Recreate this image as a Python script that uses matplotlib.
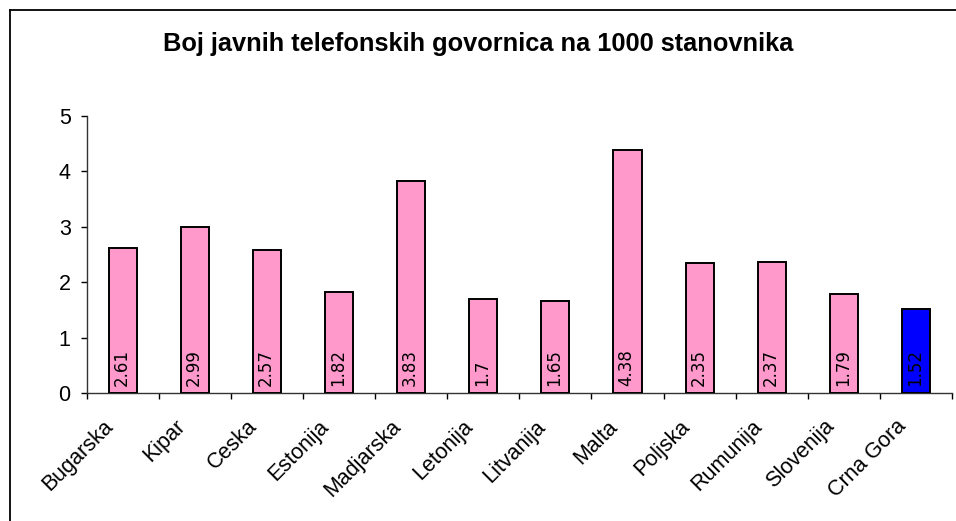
import matplotlib
matplotlib.use("Agg")
import matplotlib.pyplot as plt
from matplotlib.lines import Line2D
from matplotlib.transforms import ScaledTranslation

plt.rcParams['font.family'] = ['Liberation Sans', 'DejaVu Sans']

categories = ["Bugarska", "Kipar", "Ceska", "Estonija", "Madjarska", "Letonija",
              "Litvanija", "Malta", "Poljska", "Rumunija", "Slovenija", "Crna Gora"]
values = [2.61, 2.99, 2.57, 1.82, 3.83, 1.7, 1.65, 4.38, 2.35, 2.37, 1.79, 1.52]
value_labels = ["2.61", "2.99", "2.57", "1.82", "3.83", "1.7", "1.65", "4.38",
                "2.35", "2.37", "1.79", "1.52"]
title = "Boj javnih telefonskih govornica na 1000 stanovnika"
yticks = [0, 1, 2, 3, 4, 5]

W, H = 956, 521
fig = plt.figure(figsize=(W / 100, H / 100), dpi=100)
fig.patch.set_facecolor("white")

# outer chart border (cropped at right/bottom)
fig.add_artist(Line2D([9.5 / W, 9.5 / W], [1 - 10 / H, -0.1], transform=fig.transFigure,
                      color="black", lw=1.3))
fig.add_artist(Line2D([9.5 / W, 1.1], [1 - 10 / H, 1 - 10 / H], transform=fig.transFigure,
                      color="black", lw=1.3))

left, right = 86.7 / W, 952 / W
bottom, top = 1 - 393 / H, 1 - 115.7 / H
ax = fig.add_axes([left, bottom, right - left, top - bottom])

x = list(range(len(categories)))
colors = ["#FF99CC"] * (len(categories) - 1) + ["#0000FF"]
ax.bar(x, values, width=0.39, color=colors, edgecolor="black", linewidth=1.4, zorder=3)

lab_shift = ScaledTranslation(-0.012, 0, fig.dpi_scale_trans)
for xi, lab in zip(x, value_labels):
    ax.text(xi, 0.13, lab, rotation=90, ha="center", va="bottom", fontsize=12,
            family="DejaVu Sans", color="black", zorder=4,
            transform=ax.transData + lab_shift)

ax.set_xlim(-0.5, len(categories) - 0.5)
ax.set_ylim(0, 5)
ax.set_yticks(yticks)
ax.set_yticklabels([str(t) for t in yticks], fontsize=15.5)

ax.set_xticks(x)
ax.set_xticklabels(categories, rotation=45, ha="right", va="center",
                   rotation_mode="anchor", fontsize=15.5)
ax.tick_params(axis="x", length=0, pad=22)
shift = ScaledTranslation(-0.13, 0, fig.dpi_scale_trans)
for lbl in ax.get_xticklabels():
    lbl.set_transform(lbl.get_transform() + shift)
ax.set_xticks([i - 0.5 for i in range(len(categories) + 1)], minor=True)
ax.tick_params(axis="x", which="minor", length=4.3, width=1, direction="out")
ax.tick_params(axis="y", length=4.3, width=1, direction="out", pad=7.2)

for s in ["top", "right"]:
    ax.spines[s].set_visible(False)
ax.spines["left"].set_linewidth(1)
ax.spines["bottom"].set_linewidth(1)
ax.spines["left"].set_color("#333333")
ax.spines["bottom"].set_color("#333333")

fig.text(0.5, 1 - 51 / H, title, ha="center", va="baseline", fontsize=18.3,
         fontweight="bold")

fig.savefig("out.png", dpi=100)
